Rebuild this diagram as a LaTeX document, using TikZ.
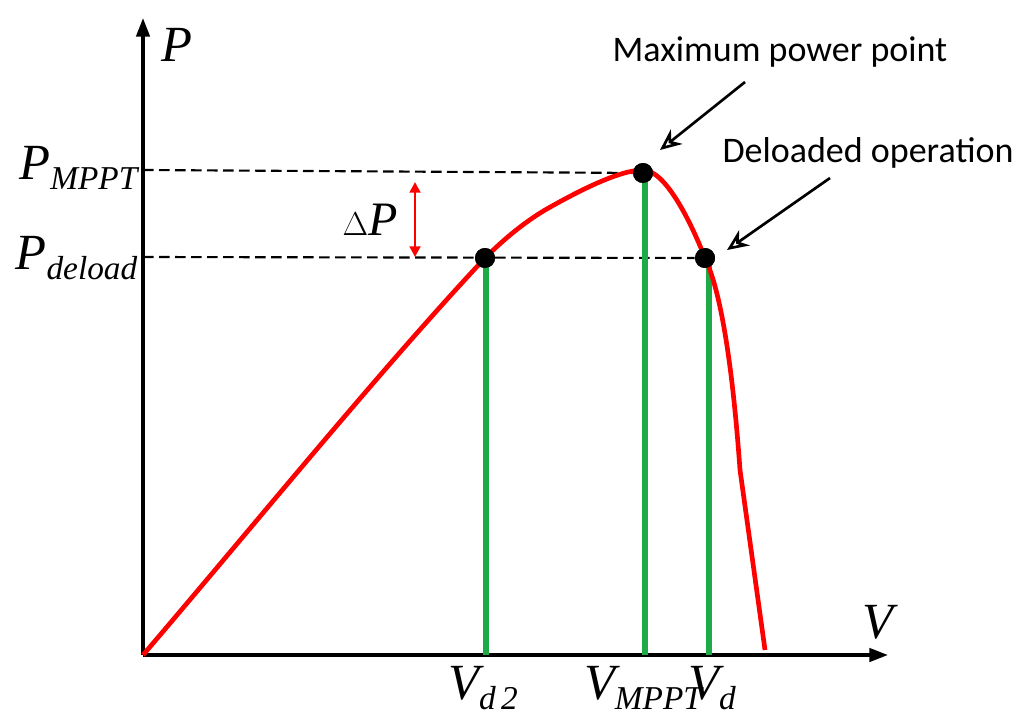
\documentclass[tikz,border=0pt]{standalone}
\usepackage{fontspec}
\setmainfont{Liberation Serif}
\newfontfamily\calfont{Carlito}
\usetikzlibrary{arrows.meta}
\begin{document}
\begin{tikzpicture}[x=0.75pt,y=-0.75pt,
  ax/.style={line width=2.6pt,-{Triangle[length=14pt,width=10pt]}},
  dsh/.style={line width=1.6pt,dash pattern=on 8pt off 4pt},
  grn/.style={line width=4pt,draw={rgb,255:red,30;green,170;blue,70}},
  dot/.style={circle,fill=black,inner sep=0pt,minimum size=15pt},
  lbl/.style={font=\calfont\fontsize{27}{30}\selectfont},
  mt/.style={font=\itshape\fontsize{38}{40}\selectfont},
  sb/.style={}]
\useasboundingbox (0,0) rectangle (1024,725);
\coordinate (O) at (143,655);
\coordinate (Ytop) at (143,18);
\coordinate (Xend) at (888,655);
\draw[ax] (O) -- (Ytop);
\draw[ax] (O) -- (Xend);
\node[dot] (A) at (485,258) {};
\node[dot] (M) at (643,173) {};
\node[dot] (D) at (705,258) {};
\draw[dsh] (143,170) -- (M);
\draw[dsh] (143,257) -- (D);
\draw[grn] (486,258) -- (486,655);
\draw[grn] (645,173) -- (645,655);
\draw[grn] (709,258) -- (709,655);
\draw[red,line width=3.5pt] (O) .. controls (250,530) and (380,370) .. (485,258)
  .. controls (505,238) and (525,222) .. (545,210)
  .. controls (580,190) and (620,170) .. (643,170)
  .. controls (665,170) and (690,220) .. (705,258)
  .. controls (725,300) and (735,400) .. (740,470) -- (765,650);
\node[dot] at (485,258) {};
\node[dot] at (643,173) {};
\node[dot] at (705,258) {};
\draw[red,line width=2.2pt,{Triangle[length=8pt,width=8pt]}-{Triangle[length=8pt,width=8pt]}] (415,182) -- (415,257);
\node[font=\fontsize{36}{38}\selectfont] (dp) at (370,220) {$\Delta$\textit{P}};
\node[mt] (P) at (177,45) {P};
\node[mt] (V) at (878,622) {V};
\node[mt,anchor=east] (pm) at (142,168) {P\raisebox{-8pt}{\fontsize{25}{27}\selectfont MPPT}};
\node[mt,anchor=east] (pd) at (142,258) {P\raisebox{-8pt}{\fontsize{25}{27}\selectfont deload}};
\node[mt] (vd2) at (483,688) {V\raisebox{-8pt}{\fontsize{25}{27}\selectfont d\,2}};
\node[mt] (vm) at (643,688) {V\raisebox{-8pt}{\fontsize{25}{27}\selectfont MPPT}};
\node[mt] (vd) at (712,688) {V\raisebox{-8pt}{\fontsize{25}{27}\selectfont d}};
\node[lbl] (mpp) at (780,52) {Maximum power point};
\node[lbl] (dlo) at (868,153) {Deloaded operation};
\draw[line width=2pt,-{Stealth[length=16pt,width=14pt,open]}] (745,82) -- (660,150);
\draw[line width=2pt,-{Stealth[length=16pt,width=14pt,open]}] (830,178) -- (727,250);
\end{tikzpicture}
\end{document}
